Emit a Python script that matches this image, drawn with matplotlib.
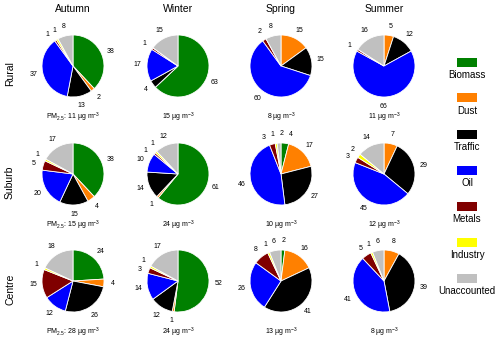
import matplotlib
matplotlib.use("Agg")
import matplotlib.pyplot as plt
import numpy as np
from matplotlib.patches import Rectangle

plt.rcParams['font.family'] = ['Liberation Sans', 'DejaVu Sans']
plt.rcParams['mathtext.default'] = 'regular'

sources = ['Biomass', 'Dust', 'Traffic', 'Oil', 'Metals', 'Industry', 'Unaccounted']
colors = ['#008000', '#FF8000', '#000000', '#0000FF', '#800000', '#FFFF00', '#C0C0C0']
seasons = ['Autumn', 'Winter', 'Spring', 'Summer']
sites = ['Rural', 'Suburb', 'Centre']

# contributions (%) per site, per season, in order of sources
rural = [[38, 2, 13, 37, 1, 1, 8],
         [63, 0, 4, 17, 1, 0, 15],
         [0, 15, 15, 60, 2, 0, 8],
         [0, 5, 12, 66, 1, 0, 16]]
suburb = [[38, 4, 15, 20, 5, 1, 17],
          [61, 1, 14, 10, 1, 1, 12],
          [4, 17, 27, 46, 3, 1, 2],
          [0, 7, 29, 45, 3, 2, 14]]
centre = [[24, 4, 26, 12, 15, 1, 18],
          [52, 1, 12, 14, 3, 1, 17],
          [2, 16, 41, 26, 8, 1, 6],
          [0, 8, 39, 41, 5, 1, 6]]
pm25 = [[11, 15, 8, 11],
        [15, 24, 10, 12],
        [28, 24, 13, 8]]

data = [rural, suburb, centre]

W, H = 500, 341
fig = plt.figure(figsize=(W / 100, H / 100), dpi=100)

cx = [73, 178, 281, 384]
cy = [66, 174, 281]
r = 31


def spread(texts, mind=0.27):
    # push neighbouring small-slice labels apart along the circle
    pts = [t for t in texts if t.get_text()]
    pairs = list(zip(pts, pts[1:] + pts[:1]))
    for _ in range(20):
        moved = False
        for a, b in pairs:
            xa, ya = a.get_position()
            xb, yb = b.get_position()
            if np.hypot(xb - xa, yb - ya) < mind:
                ta, tb = np.arctan2(ya, xa), np.arctan2(yb, xb)
                ra, rb = np.hypot(xa, ya), np.hypot(xb, yb)
                step = 0.03
                a.set_position((ra * np.cos(ta + step), ra * np.sin(ta + step)))
                b.set_position((rb * np.cos(tb - step), rb * np.sin(tb - step)))
                moved = True
        if not moved:
            break


for i, site in enumerate(sites):
    for j, season in enumerate(seasons):
        vals = data[i][j]
        ax = fig.add_axes([(cx[j] - r) / W, 1 - (cy[i] + r) / H, 2 * r / W, 2 * r / H])
        labels = [str(v) if v > 0 else '' for v in vals]
        wedges, texts = ax.pie(vals, colors=colors, labels=labels, startangle=90, counterclock=False,
                               labeldistance=1.3, wedgeprops=dict(edgecolor='white', linewidth=0.6),
                               textprops=dict(fontsize=5, ha='center', va='center'))
        spread(texts)
        ax.set_xlim(-1, 1)
        ax.set_ylim(-1, 1)
        ax.set_aspect('equal')
        txt = f'{pm25[i][j]} µg m$^{{-3}}$'
        if j == 0:
            txt = 'PM$_{2.5}$: ' + txt
        fig.text(cx[j] / W, 1 - (cy[i] + 51) / H, txt, fontsize=5, ha='center', va='center')
        if i == 0:
            fig.text(cx[j] / W, 1 - 9 / H, season, fontsize=7.5, ha='center', va='center')
    fig.text(10 / W, 1 - (cy[i] + 8) / H, site, fontsize=7.5, rotation=90, ha='center', va='center')

# legend
for k, (s, c) in enumerate(zip(sources, colors)):
    y = 62 + 36 * k
    fig.patches.append(Rectangle(((467 - 10) / W, 1 - (y + 4.5) / H), 20 / W, 9 / H,
                                 transform=fig.transFigure, facecolor=c, edgecolor='none'))
    fig.text(467 / W, 1 - (y + 13) / H, s, fontsize=7, ha='center', va='center')

fig.savefig('out.png', dpi=100)
